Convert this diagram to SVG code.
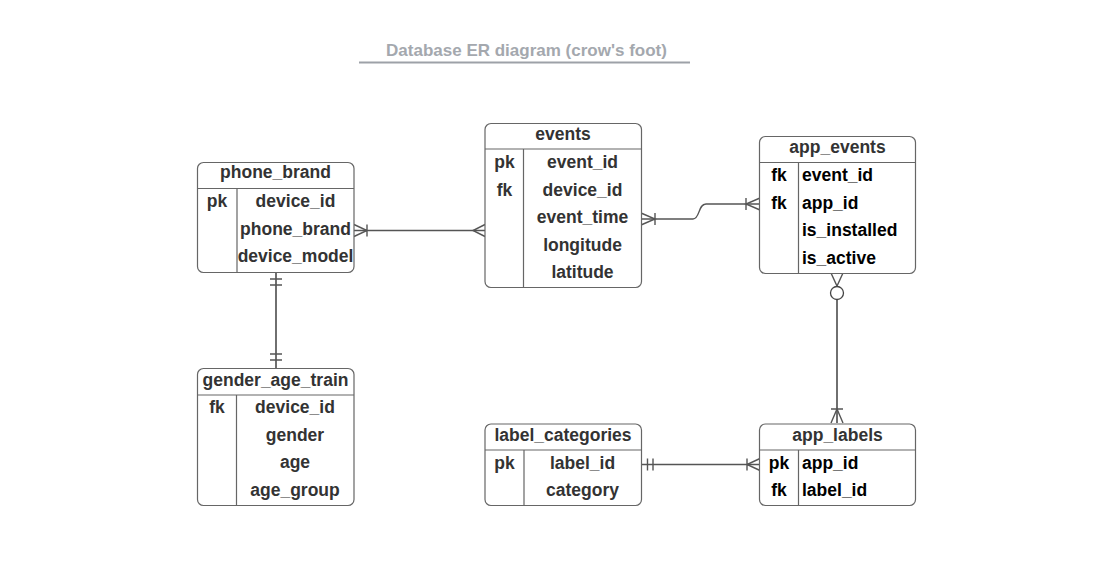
<svg xmlns="http://www.w3.org/2000/svg" width="1097" height="588" viewBox="0 0 1097 588">
<style>
.box{fill:#fff;stroke:#666;stroke-width:1.2}
.ln{stroke:#666;stroke-width:1.2;fill:none}
text{font-family:"Liberation Sans",Arial,sans-serif;font-weight:bold;font-size:17.5px;fill:#333}
.c{text-anchor:middle}
.k{fill:#000}
.con path,.con line{stroke:#555;stroke-width:1.4;fill:none}
</style>
<rect width="1097" height="588" fill="#fff"/>
<g id="title">
<text x="526.5" y="56" class="c" style="font-size:17px;fill:#a4a8ae">Database ER diagram (crow's foot)</text>
<line x1="359" y1="62.5" x2="690" y2="62.5" stroke="#9da1a8" stroke-width="1.8"/>
</g>
<g class="con" id="connectors">
<path d="M354,230.5 H485"/>
<path d="M354,224.5 L367,230.5 L354,236.5 M367,224.5 V236.5"/>
<path d="M485,224.5 L473,230.5 L485,236.5"/>
<path d="M641,219 H693 C700,219 698,204 706,204 H760"/>
<path d="M641,213 L655,219 L641,225 M655,213 V225"/>
<path d="M760,198 L746,204 L760,210 M746,198 V210"/>
<path d="M276,272 V368" style="stroke:#333"/>
<path d="M270,279 H282 M270,285 H282 M270,354 H282 M270,360 H282"/>
<path d="M837,286 V423" style="stroke:#333"/>
<path d="M831,273 L837,286 L843,273"/>
<circle cx="837" cy="293" r="6.5" fill="#fff" stroke="#444" stroke-width="1.3"/>
<path d="M831,423 L837,409 L843,423 M831,409 H843"/>
<path d="M641,464.5 H760"/>
<path d="M647.5,458.5 V470.5 M653,458.5 V470.5"/>
<path d="M760,458.5 L747,464.5 L760,470.5 M747,458.5 V470.5"/>
</g>
<g id="phone_brand">
<rect class="box" x="197.5" y="162.5" width="156.5" height="110" rx="6"/>
<path class="ln" d="M197.5,188.5 H354 M237,188.5 V272.5"/>
<text x="275.5" y="178" class="c">phone_brand</text>
<text x="217" y="207" class="c">pk</text>
<text x="295.5" y="207" class="c">device_id</text>
<text x="295.5" y="235" class="c">phone_brand</text>
<text x="295.5" y="262" class="c">device_model</text>
</g>
<g id="events">
<rect class="box" x="485" y="123.5" width="156.5" height="164" rx="6"/>
<path class="ln" d="M485,149 H641.5 M523.5,149 V287.5"/>
<text x="563" y="140" class="c">events</text>
<text x="504.5" y="168" class="c">pk</text>
<text x="504.5" y="196" class="c">fk</text>
<text x="582.5" y="168" class="c">event_id</text>
<text x="582.5" y="196" class="c">device_id</text>
<text x="582.5" y="223" class="c">event_time</text>
<text x="582.5" y="251" class="c">longitude</text>
<text x="582.5" y="278" class="c">latitude</text>
</g>
<g id="app_events">
<rect class="box" x="759.5" y="136.5" width="156" height="137" rx="6"/>
<path class="ln" d="M759.5,162.5 H915.5 M798.5,162.5 V273.5"/>
<text x="837.5" y="153" class="c">app_events</text>
<text x="779" y="181" class="c k">fk</text>
<text x="779" y="209" class="c k">fk</text>
<text x="802" y="181" class="k">event_id</text>
<text x="802" y="209" class="k">app_id</text>
<text x="802" y="236" class="k">is_installed</text>
<text x="802" y="264" class="k">is_active</text>
</g>
<g id="gender_age_train">
<rect class="box" x="197.5" y="368.5" width="156.5" height="137" rx="6"/>
<path class="ln" d="M197.5,395 H354 M236.5,395 V505.5"/>
<text x="275.5" y="386" class="c">gender_age_train</text>
<text x="217" y="413" class="c">fk</text>
<text x="295" y="413" class="c">device_id</text>
<text x="295" y="441" class="c">gender</text>
<text x="295" y="468" class="c">age</text>
<text x="295" y="496" class="c">age_group</text>
</g>
<g id="label_categories">
<rect class="box" x="485" y="424" width="156.5" height="81.5" rx="6"/>
<path class="ln" d="M485,450 H641.5 M524,450 V505.5"/>
<text x="563" y="441" class="c">label_categories</text>
<text x="504.5" y="469" class="c">pk</text>
<text x="582.5" y="469" class="c">label_id</text>
<text x="582.5" y="496" class="c">category</text>
</g>
<g id="app_labels">
<rect class="box" x="759.5" y="424" width="156" height="81.5" rx="6"/>
<path class="ln" d="M759.5,450 H915.5 M798.5,450 V505.5"/>
<text x="837.5" y="441" class="c">app_labels</text>
<text x="779" y="469" class="c k">pk</text>
<text x="779" y="496" class="c k">fk</text>
<text x="802" y="469" class="k">app_id</text>
<text x="802" y="496" class="k">label_id</text>
</g>
</svg>
